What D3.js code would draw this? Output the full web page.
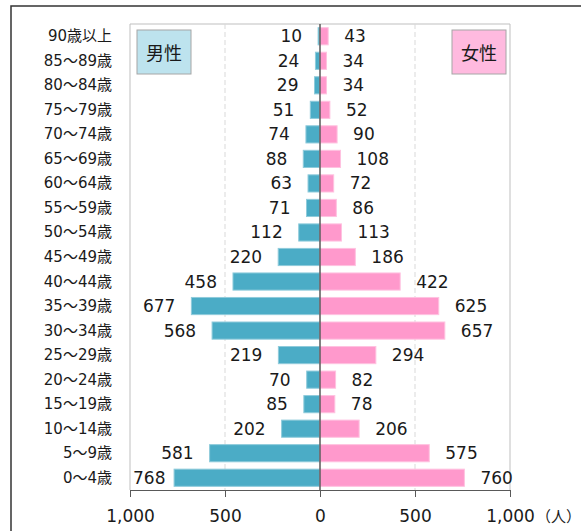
<!DOCTYPE html>
<html>
<head>
<meta charset="utf-8">
<script src="https://cdn.jsdelivr.net/npm/d3@7"></script>
<style>
  body { margin: 0; background: #fff; }
  text { font-family: "DejaVu Sans", "Noto Sans CJK JP", sans-serif; fill: #1a1a1a; }
</style>
</head>
<body>
<div class="pyramid"></div>
<script>
// age groups, top to bottom
const ages = ["90歳以上","85～89歳","80～84歳","75～79歳","70～74歳","65～69歳","60～64歳",
  "55～59歳","50～54歳","45～49歳","40～44歳","35～39歳","30～34歳","25～29歳",
  "20～24歳","15～19歳","10～14歳","5～9歳","0～4歳"];
const male   = [10,24,29,51,74,88,63,71,112,220,458,677,568,219,70,85,202,581,768];
const female = [43,34,34,52,90,108,72,86,113,186,422,625,657,294,82,78,206,575,760];
const ticks  = [-1000,-500,0,500,1000];

const W = 581, H = 531;
const plot = {left: 130, right: 510, top: 24, bottom: 490};

const svg = d3.select(".pyramid")
  .append("svg")
    .attr("width", W)
    .attr("height", H);

// outer frame
svg.append("rect")
  .attr("x", 11).attr("y", 6)
  .attr("width", 600).attr("height", 560)
  .attr("fill", "none")
  .attr("stroke", "#333")
  .attr("stroke-width", 1.5);

const x = d3.scaleLinear()
  .domain([-1000, 1000])
  .range([plot.left, plot.right]);

const y = d3.scaleBand()
  .domain(ages)
  .range([plot.top, plot.bottom])
  .paddingInner(0.3)
  .paddingOuter(0.15);

// plot border (top, left, right)
svg.append("path")
  .attr("d", `M${plot.left},${plot.bottom}V${plot.top}H${plot.right}V${plot.bottom}`)
  .attr("fill", "none")
  .attr("stroke", "#bfbfbf");

// dashed grid
svg.selectAll(".grid")
  .data([-500, 500])
  .join("line")
    .attr("x1", d => x(d)).attr("x2", d => x(d))
    .attr("y1", plot.top).attr("y2", plot.bottom)
    .attr("stroke", "#d9d9d9")
    .attr("stroke-dasharray", "5,3");

// legend boxes
const legend = [
  {label: "男性", x: 137, fill: "#bde3ee"},
  {label: "女性", x: 452, fill: "#ffbadf"}
];
const lg = svg.selectAll(".legend")
  .data(legend)
  .join("g");
lg.append("rect")
  .attr("x", d => d.x).attr("y", 30)
  .attr("width", 54).attr("height", 44)
  .attr("fill", d => d.fill)
  .attr("stroke", "#a6a6a6");
lg.append("text")
  .attr("x", d => d.x + 27).attr("y", 52)
  .attr("text-anchor", "middle")
  .attr("dominant-baseline", "central")
  .style("font-family", "'Noto Sans CJK JP', sans-serif")
  .style("font-size", "18px")
  .text(d => d.label);

const rows = ages.map((a, i) => ({age: a, m: male[i], f: female[i]}));

// male bars
svg.selectAll(".male")
  .data(rows)
  .join("rect")
    .attr("x", d => x(-d.m))
    .attr("y", d => y(d.age))
    .attr("width", d => x(0) - x(-d.m))
    .attr("height", y.bandwidth())
    .attr("fill", "#4bacc6")
    .attr("stroke", "#8fcbdb")
    .attr("stroke-width", 1);

// female bars
svg.selectAll(".female")
  .data(rows)
  .join("rect")
    .attr("x", x(0))
    .attr("y", d => y(d.age))
    .attr("width", d => x(d.f) - x(0))
    .attr("height", y.bandwidth())
    .attr("fill", "#ff99cc")
    .attr("stroke", "#ffc2e0")
    .attr("stroke-width", 1);

// value labels (kept inside the plot area like Excel does)
svg.selectAll(".mlab")
  .data(rows)
  .join("text")
    .attr("y", d => y(d.age) + y.bandwidth() / 2)
    .attr("text-anchor", "end")
    .attr("dominant-baseline", "central")
    .style("font-size", "17px")
    .text(d => d.m)
    .attr("x", function(d) {
      const w = this.getComputedTextLength();
      return Math.max(x(-d.m) - 16, plot.left + 3 + w);
    });
svg.selectAll(".flab")
  .data(rows)
  .join("text")
    .attr("y", d => y(d.age) + y.bandwidth() / 2)
    .attr("dominant-baseline", "central")
    .style("font-size", "17px")
    .text(d => d.f)
    .attr("x", d => x(d.f) + 16);

// category labels
svg.selectAll(".cat")
  .data(ages)
  .join("text")
    .attr("x", 112)
    .attr("y", d => y(d) + y.bandwidth() / 2)
    .attr("text-anchor", "end")
    .attr("dominant-baseline", "central")
    .style("font-size", "15px")
    .text(d => d);

// zero line
svg.append("line")
  .attr("x1", x(0)).attr("x2", x(0))
  .attr("y1", plot.top).attr("y2", plot.bottom)
  .attr("stroke", "#595959")
  .attr("stroke-width", 1.5);

// x axis
const axis = svg.append("g")
  .attr("transform", `translate(0,${plot.bottom})`)
  .call(d3.axisBottom(x)
    .tickValues(ticks)
    .tickSize(7)
    .tickFormat(d => d3.format(",")(Math.abs(d))));
axis.select(".domain").attr("stroke", "#595959");
axis.selectAll(".tick line").attr("stroke", "#595959");
axis.selectAll(".tick text")
  .attr("y", 20)
  .style("font-size", "17px")
  .attr("fill", "#1a1a1a");

svg.append("text")
  .attr("x", 536).attr("y", 522)
  .style("font-size", "15px")
  .style("font-family", "'Noto Sans CJK JP', sans-serif")
  .text("（人）");
</script>
</body>
</html>
